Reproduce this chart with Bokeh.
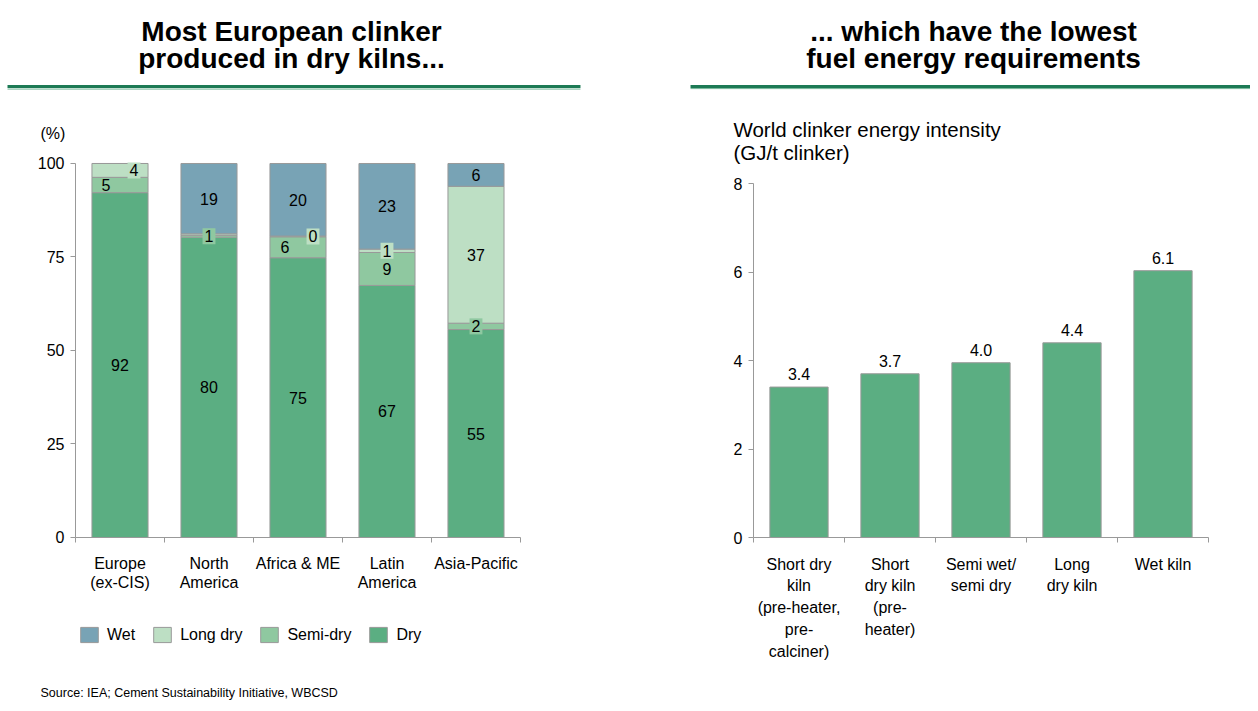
from bokeh.plotting import figure
from bokeh.models import ColumnDataSource, FixedTicker, Legend, LegendItem, Range1d
from bokeh.layouts import row
from bokeh.core.properties import value
from bokeh.embed import file_html
from bokeh.resources import INLINE

# ---------------- data ----------------
regions = ["Europe\n(ex-CIS)", "North\nAmerica", "Africa & ME", "Latin\nAmerica", "Asia-Pacific"]
dry = [92.2, 80.3, 74.8, 67.4, 55.6]
semi_dry = [4.1, 0.5, 5.6, 8.8, 1.7]
long_dry = [3.7, 0.4, 0.2, 0.9, 36.6]
wet = [0.0, 18.8, 19.4, 22.9, 6.1]
dry_labels = ["92", "80", "75", "67", "55"]
semi_labels = ["5", "1", "6", "9", "2"]
long_labels = ["4", "", "0", "1", "37"]
wet_labels = ["", "19", "20", "23", "6"]
series_names = ["Dry", "Semi-dry", "Long dry", "Wet"]
pct_ticks = [0, 25, 50, 75, 100]

kilns = ["Short dry\nkiln\n(pre-heater,\npre-\ncalciner)", "Short\ndry kiln\n(pre-\nheater)",
         "Semi wet/\nsemi dry", "Long\ndry kiln", "Wet kiln"]
energy = [3.4, 3.7, 3.95, 4.4, 6.03]
energy_labels = ["3.4", "3.7", "4.0", "4.4", "6.1"]
energy_ticks = [0, 2, 4, 6, 8]

title_left = "Most European clinker\nproduced in dry kilns..."
title_right = "... which have the lowest\nfuel energy requirements"
caption_right = "World clinker energy intensity\n(GJ/t clinker)"
source_note = "Source: IEA; Cement Sustainability Initiative, WBCSD"

# ---------------- style ----------------
FONT_NAME = "Liberation Sans"
FONT = value(FONT_NAME)
C_DRY, C_SEMI, C_LONG, C_WET = "#5BAE82", "#8FC8A0", "#BDDFC4", "#78A3B5"
GRAY = "#999999"
RULE = "#1D7A55"
RULE2 = "#6FB394"
boxed = {("semi", 1), ("semi", 4), ("long", 0), ("long", 2), ("long", 3)}
nudge = {("semi", 0): -14, ("long", 0): 14, ("semi", 2): -13, ("long", 2): 15}


def base_fig(w, xr, yr):
    p = figure(width=w, height=703, x_range=Range1d(*xr), y_range=Range1d(*yr),
               output_backend="svg", toolbar_location=None, title=None,
               min_border=0, min_border_left=0, min_border_right=0,
               min_border_top=0, min_border_bottom=0)
    p.outline_line_color = None
    p.background_fill_color = "white"
    p.border_fill_color = "white"
    p.xgrid.visible = False
    p.ygrid.visible = False
    return p


def style_axes(p, xlabels, xbounds, yt, ybounds, x_lh):
    xa = p.xaxis[0]
    xa.ticker = FixedTicker(ticks=[1, 2, 3, 4, 5], minor_ticks=[0.5, 1.5, 2.5, 3.5, 4.5, 5.5])
    xa.major_label_overrides = {i + 1: lab for i, lab in enumerate(xlabels)}
    xa.major_tick_line_color = None
    xa.major_tick_out = 0
    xa.major_tick_in = 0
    xa.minor_tick_line_color = GRAY
    xa.minor_tick_out = 5
    xa.minor_tick_in = 0
    xa.axis_line_color = GRAY
    xa.bounds = xbounds
    xa.fixed_location = 0
    xa.major_label_standoff = 13
    xa.major_label_text_font = FONT_NAME
    xa.major_label_text_font_size = "16px"
    xa.major_label_text_color = "black"
    xa.major_label_text_line_height = x_lh

    ya = p.yaxis[0]
    ya.ticker = FixedTicker(ticks=yt)
    ya.major_tick_line_color = GRAY
    ya.major_tick_out = 5
    ya.major_tick_in = 0
    ya.minor_tick_line_color = None
    ya.axis_line_color = GRAY
    ya.bounds = ybounds
    ya.fixed_location = 0.5
    ya.major_label_standoff = 6
    ya.major_label_text_font = FONT_NAME
    ya.major_label_text_font_size = "16px"
    ya.major_label_text_color = "black"


# ---------------- left panel ----------------
p1 = base_fig(621, (-0.3427, 6.635), (-44.385, 143.58))
xs = [1, 2, 3, 4, 5]
src = ColumnDataSource(dict(x=xs, dry=dry, semi=semi_dry, long=long_dry, wet=wet))
rends = p1.vbar_stack(["dry", "semi", "long", "wet"], x="x", width=0.63,
                      color=[C_DRY, C_SEMI, C_LONG, C_WET], line_color=GRAY,
                      line_width=1, source=src)

lx, ly, lt, lbg, lba, lxo = [], [], [], [], [], []
bottoms = [0.0] * 5
for key, vals, labs, col in [("dry", dry, dry_labels, C_DRY), ("semi", semi_dry, semi_labels, C_SEMI),
                             ("long", long_dry, long_labels, C_LONG), ("wet", wet, wet_labels, C_WET)]:
    for i in range(5):
        mid = bottoms[i] + vals[i] / 2.0
        if labs[i]:
            lx.append(xs[i]); ly.append(mid); lt.append(labs[i])
            lbg.append(col); lba.append(1.0 if (key, i) in boxed else 0.0)
            lxo.append(nudge.get((key, i), 0))
        bottoms[i] += vals[i]
lsrc = ColumnDataSource(dict(x=lx, y=ly, text=lt, bg=lbg, bga=lba, xo=lxo))
p1.text(x="x", y="y", text="text", x_offset="xo", source=lsrc, text_align="center",
        text_baseline="middle", text_font=FONT, text_font_size="16px", text_color="black",
        background_fill_color="bg", background_fill_alpha="bga", padding=2)

style_axes(p1, regions, (0.5, 5.5), pct_ticks, (0, 100), 1.08)

p1.text(x=[2.927], y=[131.8], text=[title_left], text_align="center", text_baseline="middle",
        text_font=FONT, text_font_style="bold", text_font_size="28px", text_line_height=0.87,
        text_color="black")
p1.segment(x0=[-0.264], y0=[120.6], x1=[6.174], y1=[120.6], line_width=3, line_color=RULE)
p1.segment(x0=[-0.264], y0=[119.9], x1=[6.174], y1=[119.9], line_width=1, line_color=RULE2)
p1.text(x=[0.107], y=[108.0], text=["(%)"], text_align="left", text_baseline="middle",
        text_font=FONT, text_font_size="16px", text_color="black")
p1.text(x=[0.107], y=[-41.7], text=[source_note], text_align="left", text_baseline="middle",
        text_font=FONT, text_font_size="12.5px", text_color="black")

legend = Legend(items=[LegendItem(label=series_names[3], renderers=[rends[3]]),
                       LegendItem(label=series_names[2], renderers=[rends[2]]),
                       LegendItem(label=series_names[1], renderers=[rends[1]]),
                       LegendItem(label=series_names[0], renderers=[rends[0]])],
                orientation="horizontal", location=(78, 59), glyph_width=22, glyph_height=19,
                label_text_font=FONT_NAME, label_text_font_size="16px", label_text_color="black",
                spacing=16, label_standoff=7, border_line_color=None, background_fill_alpha=0,
                padding=0, margin=0)
p1.add_layout(legend)

# ---------------- right panel ----------------
p2 = base_fig(629, (-0.9505, 5.9615), (-3.751, 12.136))
esrc = ColumnDataSource(dict(x=xs, top=energy, lab=energy_labels))
p2.vbar(x="x", top="top", width=0.64, fill_color=C_DRY, line_color=GRAY, line_width=1, source=esrc)
p2.text(x="x", y="top", text="lab", source=esrc, text_align="center", text_baseline="bottom",
        y_offset=-7, text_font=FONT, text_font_size="16px", text_color="black")
style_axes(p2, kilns, (0.5, 5.5), energy_ticks, (0, 8), 1.28)

p2.text(x=[2.918], y=[11.14], text=[title_right], text_align="center", text_baseline="middle",
        text_font=FONT, text_font_style="bold", text_font_size="28px", text_line_height=0.87,
        text_color="black")
p2.segment(x0=[-0.192], y0=[10.19], x1=[5.9615], y1=[10.19], line_width=3, line_color=RULE)
p2.segment(x0=[-0.192], y0=[10.145], x1=[5.9615], y1=[10.145], line_width=1, line_color=RULE2)
p2.text(x=[0.28], y=[8.95], text=[caption_right], text_align="left", text_baseline="middle",
        text_font=FONT, text_font_size="20.5px", text_line_height=1.0, text_color="black")

layout = row(p1, p2)
open("out.html", "w").write(file_html(layout, INLINE))
